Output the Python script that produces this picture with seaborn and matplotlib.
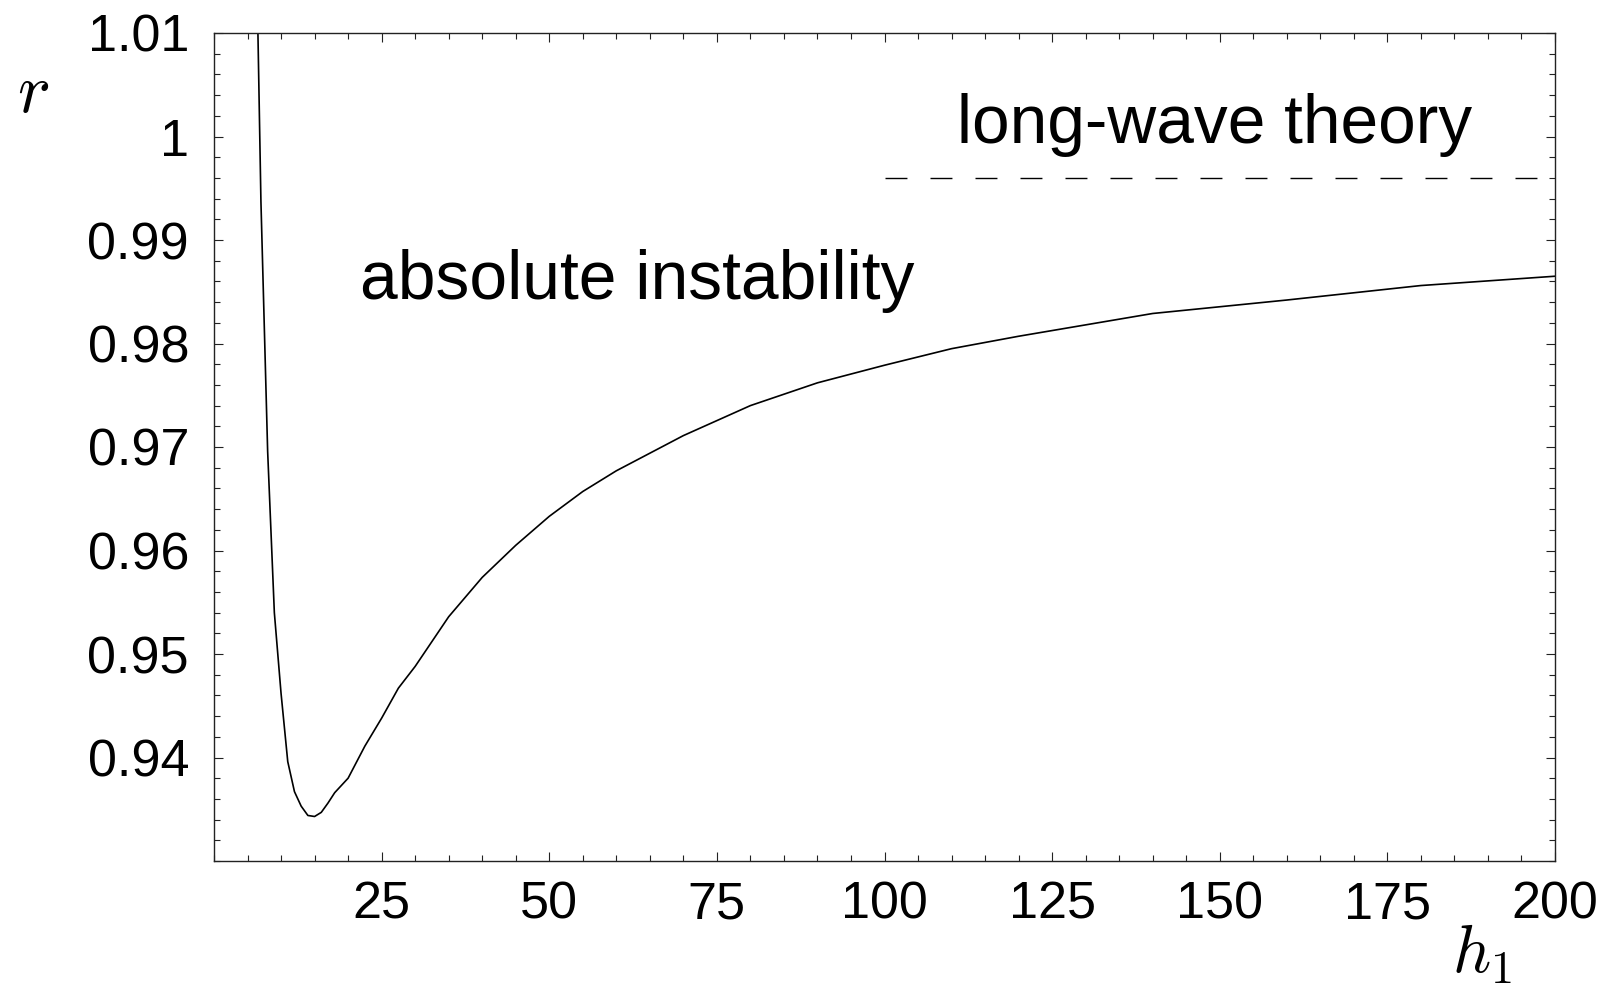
import numpy as np
import pandas as pd
import matplotlib
matplotlib.use("Agg")
import matplotlib.pyplot as plt
import seaborn as sns
from matplotlib.ticker import MultipleLocator, FixedLocator, FuncFormatter

# ---- data ----
h1_values = [6, 7, 8, 9, 10, 11, 12, 13, 14, 15, 16, 17, 18, 20, 22.5, 25, 27.5,
             30, 35, 40, 45, 50, 55, 60, 70, 80, 90, 100, 110, 120, 140, 160, 180, 200]
r_values = [1.030, 0.9937, 0.9696, 0.9540, 0.9462, 0.9396, 0.9367, 0.9353, 0.9344,
            0.9343, 0.9347, 0.9356, 0.9366, 0.9380, 0.9411, 0.9438, 0.9467,
            0.9488, 0.9536, 0.9574, 0.9605, 0.9633, 0.9657, 0.9677, 0.9711, 0.9740,
            0.9762, 0.9779, 0.9795, 0.9807, 0.9829, 0.9842, 0.9856, 0.9865]
longwave_h1 = [100, 200]
longwave_r = [0.996, 0.996]
x_major_ticks = [25, 50, 75, 100, 125, 150, 175, 200]
y_major_ticks = [0.94, 0.95, 0.96, 0.97, 0.98, 0.99, 1.00, 1.01]
y_tick_labels = ["0.94", "0.95", "0.96", "0.97", "0.98", "0.99", "1", "1.01"]

sns.set_theme(style="white")
plt.rcParams["font.family"] = ["Liberation Sans", "DejaVu Sans"]
plt.rcParams["mathtext.fontset"] = "cm"
plt.rcParams["text.color"] = "black"

fig = plt.figure(figsize=(16.1, 9.84), dpi=100)
ax = fig.add_axes([214 / 1610, 1 - 861 / 984, (1555 - 214) / 1610, (861 - 33) / 984])

curve = pd.DataFrame({"h1": h1_values, "r": r_values})
sns.lineplot(data=curve, x="h1", y="r", color="black", lw=1.2, ax=ax, sort=False)
lw_df = pd.DataFrame({"h1": longwave_h1, "r": longwave_r})
sns.lineplot(data=lw_df, x="h1", y="r", color="black", lw=1.0, ax=ax, sort=False)
ax.lines[-1].set_dashes([15.8, 16.6])

ax.set_xlim(0, 200)
ax.set_ylim(0.93, 1.01)
ax.set_xlabel("")
ax.set_ylabel("")

ax.xaxis.set_major_locator(FixedLocator(x_major_ticks))
ax.xaxis.set_minor_locator(MultipleLocator(5))
ax.yaxis.set_major_locator(FixedLocator(y_major_ticks))
ax.yaxis.set_minor_locator(MultipleLocator(0.002))
ax.yaxis.set_major_formatter(FuncFormatter(
    lambda v, p: y_tick_labels[int(round((v - 0.94) / 0.01))] if 0 <= round((v - 0.94) / 0.01) < len(y_tick_labels) else ""))

for s in ax.spines.values():
    s.set_visible(True)
    s.set_color("#222222")
    s.set_linewidth(1.0)

ax.tick_params(axis="both", which="both", direction="in", top=True, right=True,
               bottom=True, left=True, colors="#222222", labelcolor="black")
ax.tick_params(axis="both", which="major", length=6.5, width=0.8, labelsize=37.5)
ax.tick_params(axis="both", which="minor", length=4, width=0.8)
ax.tick_params(axis="x", which="major", pad=14)
ax.tick_params(axis="y", which="major", pad=18)

ax.text(21.8, 0.98427, "absolute instability", fontsize=48.8, color="black",
        ha="left", va="baseline")
ax.text(110.8, 0.99939, "long-wave theory", fontsize=48.7, color="black",
        ha="left", va="baseline")

fig.text(17 / 1610, 1 - 112 / 984, r"$r$", fontsize=50, color="black",
         ha="left", va="baseline")
fig.text(1452 / 1610, 1 - 973 / 984, r"$h_1$", fontsize=48, color="black",
         ha="left", va="baseline")

fig.savefig("out.png", dpi=100, facecolor="white")
